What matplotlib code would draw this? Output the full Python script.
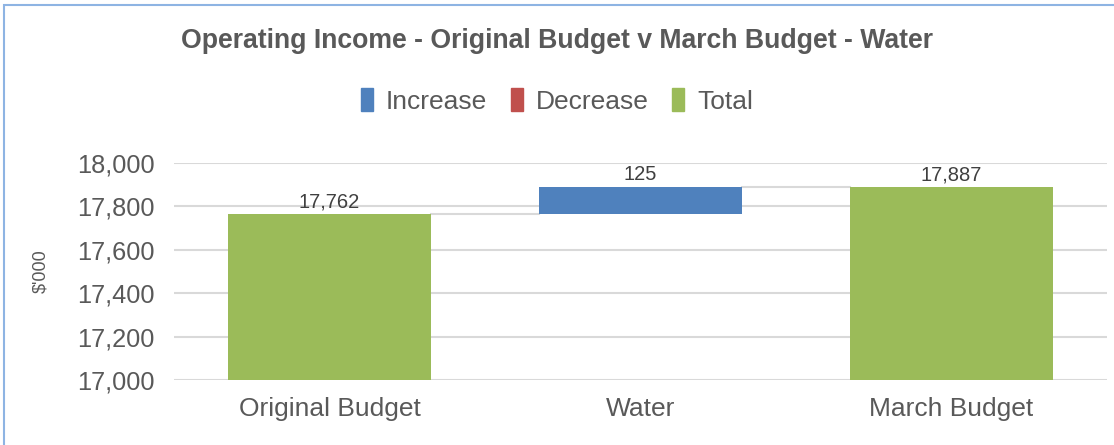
import matplotlib
matplotlib.use('Agg')
from matplotlib import pyplot as plt
from matplotlib.patches import Rectangle, Patch
from matplotlib.ticker import FuncFormatter

categories = ['Original Budget', 'Water', 'March Budget']
kinds = ['total', 'increase', 'total']
changes = [17762, 125, 17887]
y_ticks = [17000, 17200, 17400, 17600, 17800, 18000]

colours = {'increase': '#4F81BD', 'decrease': '#C0504D', 'total': '#9BBB59'}
text_grey = '#595959'

plt.rcParams['font.family'] = ['Liberation Sans', 'DejaVu Sans']

fig = plt.figure(figsize=(11.14, 4.45), dpi=100)
ax = fig.add_axes([0.1562, 0.146, 0.8375, 0.4888])

# waterfall: totals start at the axis floor, changes float on the running total
floor = 17000
running = 0
bottoms, tops = [], []
for kind, val in zip(kinds, changes):
    if kind == 'total':
        bottoms.append(floor)
        tops.append(val)
        running = val
    else:
        bottoms.append(running)
        tops.append(running + val)
        running = running + val

width = 0.65
for i, kind in enumerate(kinds):
    ax.bar(i, tops[i] - bottoms[i], bottom=bottoms[i], width=width,
           color=colours[kind], zorder=3)
    ax.text(i, tops[i] + 12, f'{changes[i]:,}', ha='center', va='bottom',
            fontsize=14.5, color='#404040', zorder=4)

# connector lines between bars
for i in range(len(categories) - 1):
    ax.plot([i + width / 2, i + 1 - width / 2], [tops[i], tops[i]],
            color='#D9D9D9', lw=1.5, zorder=2)

ax.set_xlim(-0.5, len(categories) - 0.5)
ax.set_ylim(17000, 18000)
ax.set_yticks(y_ticks)
ax.yaxis.set_major_formatter(FuncFormatter(lambda v, p: f'{int(v):,}'))
ax.set_xticks(range(len(categories)))
ax.set_xticklabels(categories)
ax.tick_params(axis='x', length=0, labelsize=19, colors=text_grey, pad=12)
ax.tick_params(axis='y', length=0, labelsize=18.3, colors=text_grey, pad=14)
ax.grid(axis='y', color='#D9D9D9', lw=1.5, zorder=0)
for s in ax.spines.values():
    s.set_visible(False)

ax.set_ylabel("$'000", fontsize=13, color=text_grey, labelpad=20)

fig.text(0.5, 0.908, 'Operating Income - Original Budget v March Budget - Water',
         ha='center', va='center', fontsize=19.2, fontweight='bold', color=text_grey)

handles = [Patch(color=colours['increase'], label='Increase'),
           Patch(color=colours['decrease'], label='Decrease'),
           Patch(color=colours['total'], label='Total')]
fig.legend(handles=handles, loc='center', bbox_to_anchor=(0.5, 0.773), ncol=3,
           frameon=False, fontsize=19, handlelength=0.45, handleheight=0.95,
           handletextpad=0.5, columnspacing=0.9, labelcolor=text_grey)

# chart border
fig.patches.append(Rectangle((4 / 1114, -0.05), 1.1, 1 - 5 / 445 + 0.05,
                             transform=fig.transFigure, fill=False,
                             edgecolor='#8EB4E3', lw=1.5))

fig.savefig('out.png', dpi=100)
